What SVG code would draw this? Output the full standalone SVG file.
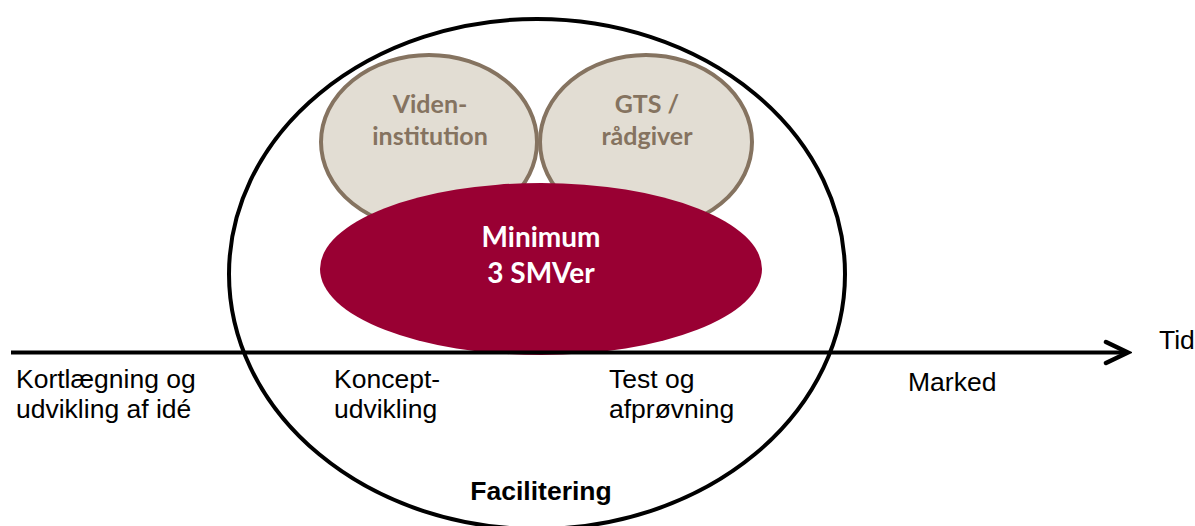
<svg xmlns="http://www.w3.org/2000/svg" width="1195" height="526" viewBox="0 0 1195 526">
<style>
.lbl{font-family:"Liberation Sans",Arial,sans-serif;font-size:26.5px;fill:#000}
.bold{font-weight:bold}
.beige{fill:#E2DDD3;stroke:#857360;stroke-width:4}
.btxt{font-family:Lato,"Open Sans",sans-serif;font-weight:bold;font-size:25px;fill:#857360;text-anchor:middle}
.rtxt{font-family:Lato,"Open Sans",sans-serif;font-weight:bold;font-size:28px;fill:#fff;text-anchor:middle}
.axis{stroke:#000;stroke-width:4;fill:none}
</style>
<defs>
<marker id="chev" markerUnits="userSpaceOnUse" markerWidth="30" markerHeight="30" viewBox="-26 -14 30 28" refX="0" refY="0" orient="auto">
<path d="M-22,-10.5 L0,0 L-22,10.5" fill="none" stroke="#000" stroke-width="4.5" stroke-linecap="round" stroke-linejoin="miter"/>
</marker>
</defs>
<rect width="1195" height="526" fill="#fff"/>
<g id="viden">
<ellipse class="beige" cx="429" cy="142" rx="108" ry="87"/>
<text class="btxt" x="430" y="113">Viden-</text>
<text class="btxt" x="430" y="145">institution</text>
</g>
<g id="gts">
<ellipse class="beige" cx="646" cy="142" rx="106" ry="87"/>
<text class="btxt" x="647" y="113">GTS /</text>
<text class="btxt" x="647" y="145">rådgiver</text>
</g>
<g id="smv">
<ellipse cx="541" cy="269" rx="221" ry="86" fill="#990033"/>
<text class="rtxt" x="541" y="247">Minimum</text>
<text class="rtxt" x="541" y="283">3 SMVer</text>
</g>
<g id="connectors">
<line class="axis" x1="11" y1="352.5" x2="1128" y2="352.5" marker-end="url(#chev)"/>
</g>
<g id="facilitering">
<ellipse cx="537" cy="274" rx="308" ry="255" fill="none" stroke="#000" stroke-width="4"/>
<text class="lbl bold" x="541" y="500" text-anchor="middle">Facilitering</text>
</g>
<g id="phase1">
<text class="lbl" x="16" y="388">Kortlægning og</text>
<text class="lbl" x="16" y="418">udvikling af idé</text>
</g>
<g id="phase2">
<text class="lbl" x="334" y="388">Koncept-</text>
<text class="lbl" x="334" y="418">udvikling</text>
</g>
<g id="phase3">
<text class="lbl" x="609" y="388">Test og</text>
<text class="lbl" x="609" y="418">afprøvning</text>
</g>
<g id="phase4">
<text class="lbl" x="908" y="391">Marked</text>
</g>
<g id="tid">
<text class="lbl" x="1159" y="349">Tid</text>
</g>
</svg>
